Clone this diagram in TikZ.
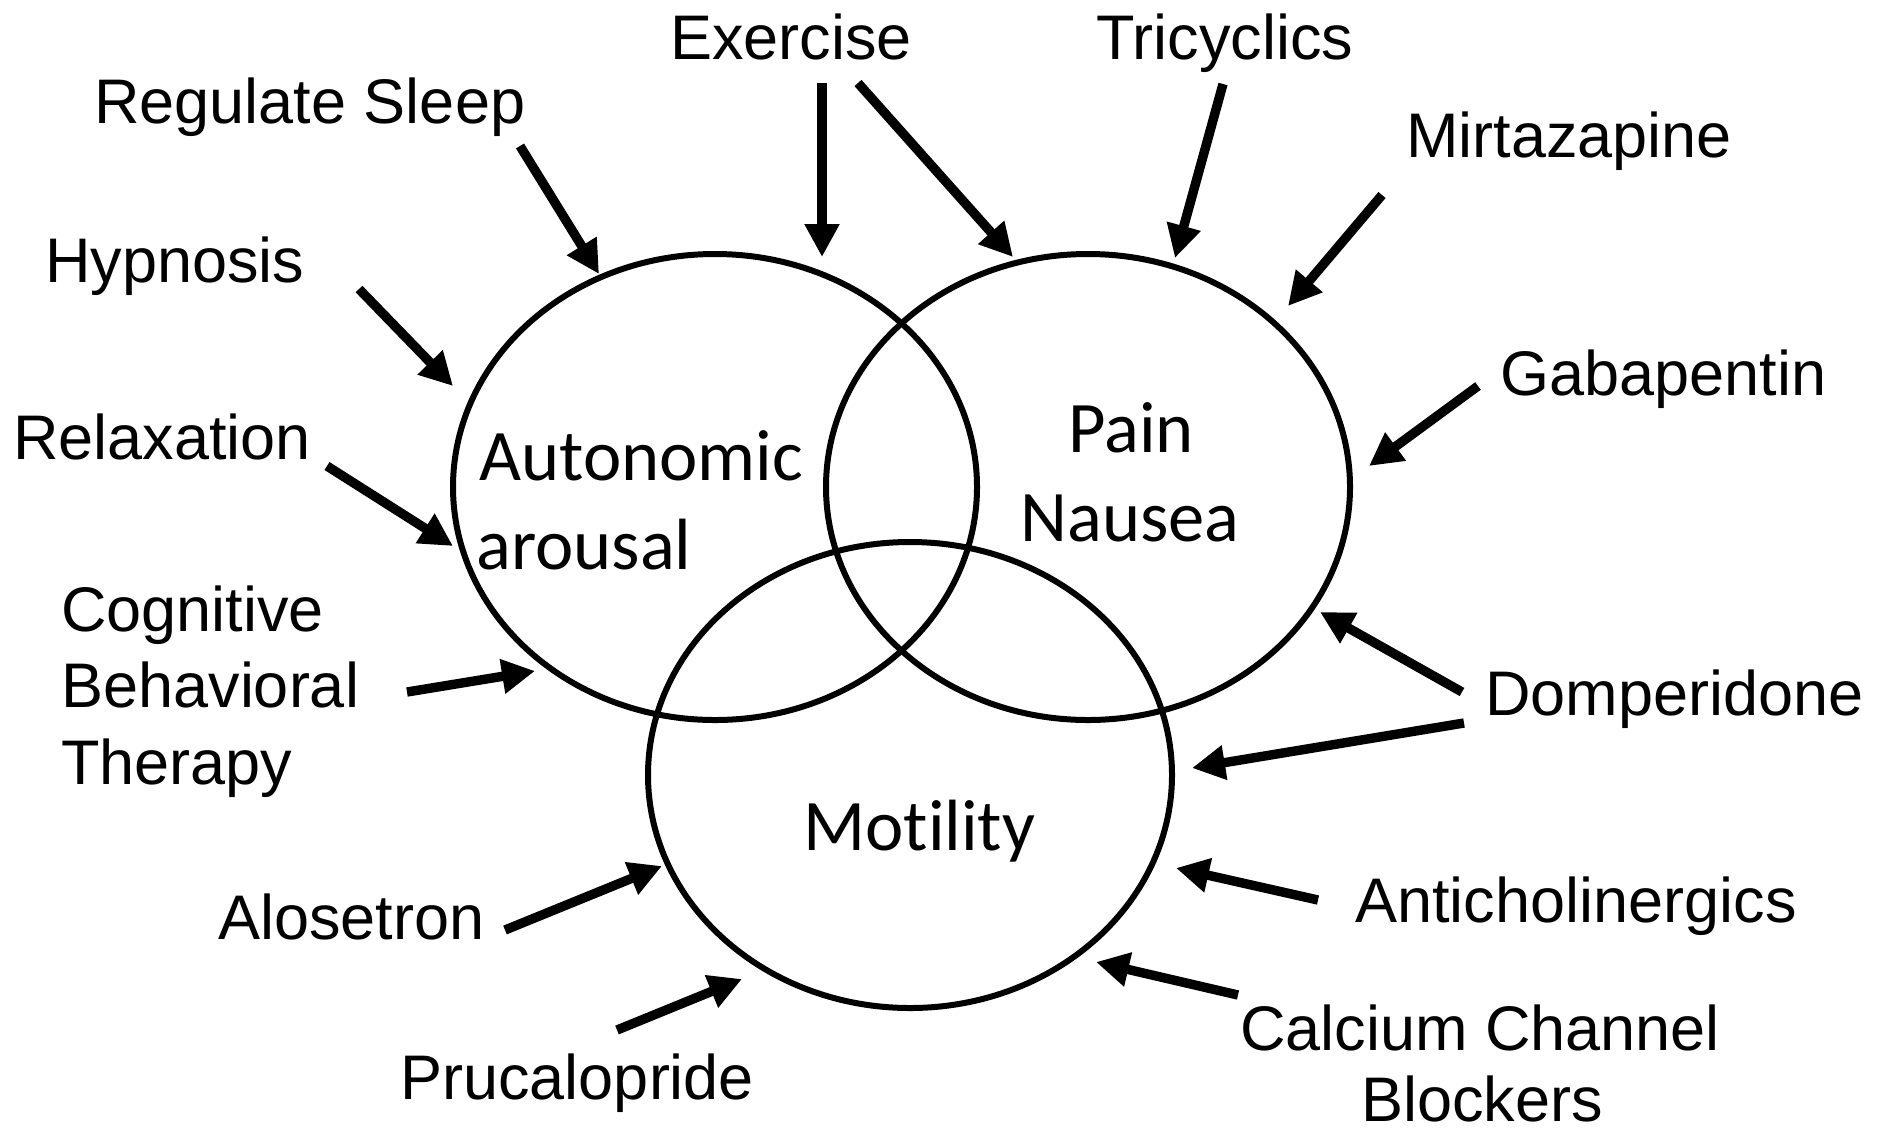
\documentclass[tikz,border=0pt]{standalone}
\usepackage{fontspec}
\setmainfont{Liberation Sans}
\newfontfamily\calfont[Ligatures=NoCommon]{Carlito}
\usetikzlibrary{arrows.meta,shapes.geometric}
\begin{document}
\begin{tikzpicture}[x=0.5pt,y=-0.5pt,
  lbl/.style={anchor=base west,inner sep=0pt,font=\fontsize{31.5pt}{38pt}\selectfont},
  clbl/.style={anchor=base west,inner sep=0pt,font=\calfont\fontsize{36.3pt}{44pt}\selectfont},
  venn/.style={draw,ellipse,line width=3pt,inner sep=0pt,minimum width=262pt,minimum height=233pt},
  arr/.style={line width=4.7pt,-{Triangle[width=16.5pt,length=16.5pt]}}]
\useasboundingbox (0,0) rectangle (1889,1131);
% ellipses
\node[venn] (A) at (715,487) {};
\node[venn] (P) at (1088,487) {};
\node[venn] (M) at (910,775) {};
% ellipse labels
\node[clbl] (tA1) at (479,480) {Autonomic};
\node[clbl] (tA2) at (476,569) {arousal};
\node[clbl] (tP1) at (1068,452) {Pain};
\node[clbl] (tP2) at (1020,541) {Nausea};
\node[clbl] (tM) at (803,850) {Motility};
% outer labels
\node[lbl] (ex) at (670,59) {Exercise};
\node[lbl] (rs) at (94,123) {Regulate Sleep};
\node[lbl] (hy) at (45,282) {Hypnosis};
\node[lbl] (re) at (13,459) {Relaxation};
\node[lbl] (cb1) at (61,631) {Cognitive};
\node[lbl] (cb2) at (61,707) {Behavioral};
\node[lbl] (cb3) at (61,784) {Therapy};
\node[lbl] (al) at (218,939) {Alosetron};
\node[lbl] (pr) at (400,1099) {Prucalopride};
\node[lbl] (tr) at (1096,59) {Tricyclics};
\node[lbl] (mi) at (1406,157) {Mirtazapine};
\node[lbl] (ga) at (1500,395) {Gabapentin};
\node[lbl] (do) at (1485,715) {Domperidone};
\node[lbl] (an) at (1355,922) {Anticholinergics};
\node[lbl] (cc1) at (1240,1050) {Calcium Channel};
\node[lbl] (cc2) at (1361,1121) {Blockers};
% arrow coordinates
\coordinate (rsS) at (520,146);  \coordinate (rsE) at (599,274);
\coordinate (exS1) at (822,83);  \coordinate (exE1) at (822,257);
\coordinate (exS2) at (858,83);  \coordinate (exE2) at (1013,257);
\coordinate (hyS) at (359,289);  \coordinate (hyE) at (453,386);
\coordinate (reS) at (327,466);  \coordinate (reE) at (453,546);
\coordinate (cbS) at (407,692);  \coordinate (cbE) at (535,671);
\coordinate (alS) at (505,930);  \coordinate (alE) at (662,866);
\coordinate (prS) at (617,1030); \coordinate (prE) at (742,979);
\coordinate (trS) at (1223,84);  \coordinate (trE) at (1175,258);
\coordinate (miS) at (1382,195); \coordinate (miE) at (1288,306);
\coordinate (gaS) at (1478,386); \coordinate (gaE) at (1369,466);
\coordinate (doS1) at (1462,692); \coordinate (doE1) at (1320,612);
\coordinate (doS2) at (1464,723); \coordinate (doE2) at (1192,768);
\coordinate (anS) at (1318,900); \coordinate (anE) at (1176,868);
\coordinate (ccS) at (1238,995); \coordinate (ccE) at (1096,962);
% arrows
\draw[arr] (rsS) -- (rsE);
\draw[arr] (exS1) -- (exE1);
\draw[arr] (exS2) -- (exE2);
\draw[arr] (hyS) -- (hyE);
\draw[arr] (reS) -- (reE);
\draw[arr] (cbS) -- (cbE);
\draw[arr] (alS) -- (alE);
\draw[arr] (prS) -- (prE);
\draw[arr] (trS) -- (trE);
\draw[arr] (miS) -- (miE);
\draw[arr] (gaS) -- (gaE);
\draw[arr] (doS1) -- (doE1);
\draw[arr] (doS2) -- (doE2);
\draw[arr] (anS) -- (anE);
\draw[arr] (ccS) -- (ccE);
\end{tikzpicture}
\end{document}
